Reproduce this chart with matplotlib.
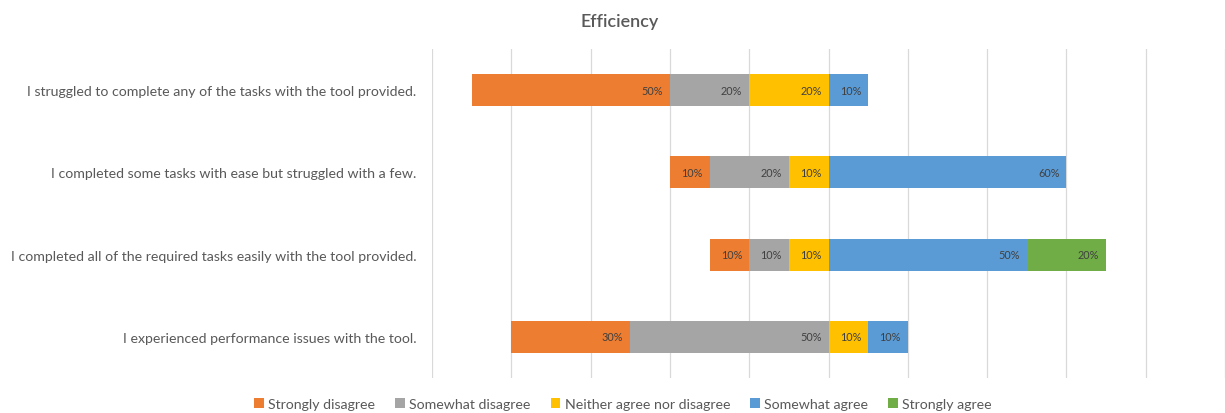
import matplotlib
matplotlib.use("Agg")
import matplotlib.pyplot as plt
from matplotlib.patches import Patch

plt.rcParams["font.family"] = ["Lato", "DejaVu Sans"]

questions = [
    "I struggled to complete any of the tasks with the tool provided.",
    "I completed some tasks with ease but struggled with a few.",
    "I completed all of the required tasks easily with the tool provided.",
    "I experienced performance issues with the tool.",
]
responses = [
    "Strongly disagree",
    "Somewhat disagree",
    "Neither agree nor disagree",
    "Somewhat agree",
    "Strongly agree",
]
strongly_disagree = [50, 10, 10, 30]
somewhat_disagree = [20, 20, 10, 50]
neutral = [20, 10, 10, 10]
somewhat_agree = [10, 60, 50, 10]
strongly_agree = [0, 0, 20, 0]
# percentage point where each bar begins (left of the zero line)
bar_starts = [-90, -40, -30, -80]

series = [strongly_disagree, somewhat_disagree, neutral, somewhat_agree, strongly_agree]
colors = ["#ED7D31", "#A5A5A5", "#FFC000", "#5B9BD5", "#70AD47"]

fig = plt.figure(figsize=(12.25, 4.14), dpi=100)
ax = fig.add_axes([432 / 1225, 1 - 379 / 414, 793 / 1225, 329 / 414])

for i in range(len(questions)):
    left = bar_starts[i]
    for vals, col in zip(series, colors):
        v = vals[i]
        if v <= 0:
            continue
        ax.barh(i, v, left=left, height=0.39, color=col, zorder=2)
        ax.annotate(f"{v}%", xy=(left + v, i), xytext=(-5, 0),
                    textcoords="offset points", ha="right", va="center",
                    fontsize=7.8, color="#404040", zorder=3)
        left += v

ax.set_xlim(-100, 100)
ax.set_ylim(len(questions) - 0.5, -0.5)
ax.set_xticks(range(-100, 101, 20))
ax.tick_params(axis="x", length=0, labelbottom=False)
ax.set_yticks(range(len(questions)))
ax.set_yticklabels(questions, fontsize=10.2, color="#595959")
ax.tick_params(axis="y", length=0, pad=11)
ax.set_axisbelow(True)
ax.xaxis.grid(True, color="#D9D9D9", linewidth=0.9)
for s in ax.spines.values():
    s.set_visible(False)

fig.text(620 / 1225, 1 - 22 / 414, "Efficiency", ha="center", va="center",
         fontsize=13, fontweight="semibold", color="#595959")

handles = [Patch(facecolor=c, edgecolor="none") for c in colors]
fig.legend(handles, responses, loc="center", bbox_to_anchor=(623 / 1225, 1 - 405 / 414),
           ncol=5, frameon=False, fontsize=10.2, handlelength=0.7, handleheight=0.7,
           handletextpad=0.3, columnspacing=1.4, labelcolor="#595959")

fig.savefig("out.png", dpi=100)
